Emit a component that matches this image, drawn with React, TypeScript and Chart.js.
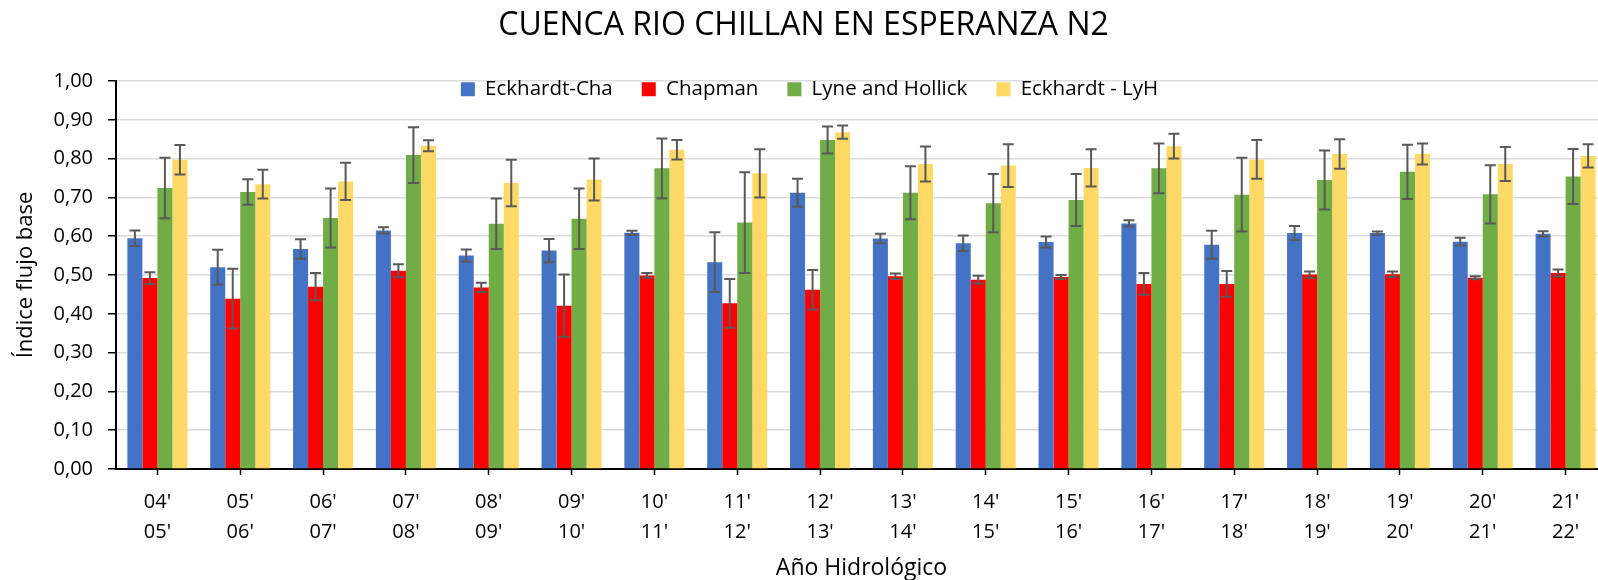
import React, { useEffect, useRef } from 'react';
import { Chart, registerables } from 'chart.js';

Chart.register(...registerables);

const TITLE = 'CUENCA RIO CHILLAN EN ESPERANZA N2';
const X_TITLE = 'Año Hidrológico';
const Y_TITLE = 'Índice flujo base';

const CATEGORIES = [
  ["04'", "05'"], ["05'", "06'"], ["06'", "07'"], ["07'", "08'"], ["08'", "09'"], ["09'", "10'"],
  ["10'", "11'"], ["11'", "12'"], ["12'", "13'"], ["13'", "14'"], ["14'", "15'"], ["15'", "16'"],
  ["16'", "17'"], ["17'", "18'"], ["18'", "19'"], ["19'", "20'"], ["20'", "21'"], ["21'", "22'"],
];

const SERIES_NAMES = ['Eckhardt-Cha', 'Chapman', 'Lyne and Hollick', 'Eckhardt - LyH'];
const SERIES_COLORS = ['#4472C4', '#FF0000', '#70AD47', '#FFD966'];

const ECK_CHA = [0.595, 0.520, 0.567, 0.615, 0.550, 0.563, 0.609, 0.533, 0.712, 0.594, 0.582, 0.585, 0.633, 0.578, 0.608, 0.608, 0.586, 0.606];
const ECK_CHA_ERR = [0.020, 0.045, 0.025, 0.008, 0.016, 0.030, 0.005, 0.077, 0.036, 0.012, 0.020, 0.014, 0.008, 0.036, 0.018, 0.004, 0.010, 0.007];

const CHAPMAN = [0.492, 0.439, 0.470, 0.511, 0.468, 0.421, 0.499, 0.427, 0.462, 0.497, 0.488, 0.495, 0.477, 0.477, 0.501, 0.502, 0.493, 0.505];
const CHAPMAN_ERR = [0.015, 0.077, 0.035, 0.017, 0.012, 0.080, 0.006, 0.063, 0.051, 0.007, 0.010, 0.005, 0.028, 0.033, 0.008, 0.007, 0.004, 0.009];

const LYNE = [0.724, 0.714, 0.647, 0.809, 0.632, 0.645, 0.775, 0.635, 0.848, 0.712, 0.685, 0.693, 0.775, 0.707, 0.745, 0.766, 0.708, 0.754];
const LYNE_ERR = [0.078, 0.033, 0.076, 0.072, 0.065, 0.078, 0.077, 0.130, 0.035, 0.068, 0.075, 0.067, 0.064, 0.095, 0.076, 0.070, 0.075, 0.071];

const ECK_LYH = [0.797, 0.734, 0.741, 0.833, 0.737, 0.746, 0.823, 0.762, 0.868, 0.786, 0.782, 0.776, 0.832, 0.798, 0.812, 0.812, 0.786, 0.807];
const ECK_LYH_ERR = [0.038, 0.037, 0.048, 0.014, 0.060, 0.054, 0.025, 0.062, 0.017, 0.045, 0.055, 0.048, 0.032, 0.050, 0.038, 0.027, 0.044, 0.030];

const Y_TICKS = ['0,00', '0,10', '0,20', '0,30', '0,40', '0,50', '0,60', '0,70', '0,80', '0,90', '1,00'];

const SERIES_VALUES = [ECK_CHA, CHAPMAN, LYNE, ECK_LYH];
const SERIES_ERRORS = [ECK_CHA_ERR, CHAPMAN_ERR, LYNE_ERR, ECK_LYH_ERR];

const FONT = "'Open Sans', 'DejaVu Sans', sans-serif";
const LEGEND_TOP = 50;
const LEGEND_SHIFT_X = 6;
const LEGEND_BOX_HEIGHT = 70;

const errorBarsPlugin = {
  id: 'errorBars',
  afterDatasetsDraw(chart: any) {
    const ctx = chart.ctx;
    const yScale = chart.scales.y;
    ctx.save();
    ctx.strokeStyle = '#595959';
    ctx.lineWidth = 2;
    chart.data.datasets.forEach((ds: any, di: number) => {
      const meta = chart.getDatasetMeta(di);
      if (meta.hidden) return;
      const errs = SERIES_ERRORS[di];
      meta.data.forEach((bar: any, i: number) => {
        const v = ds.data[i];
        const e = errs[i];
        const yTop = yScale.getPixelForValue(v + e);
        const yBot = yScale.getPixelForValue(v - e);
        const x = bar.x;
        const cap = 5.5;
        ctx.beginPath();
        ctx.moveTo(x, yTop);
        ctx.lineTo(x, yBot);
        ctx.moveTo(x - cap, yTop);
        ctx.lineTo(x + cap, yTop);
        ctx.moveTo(x - cap, yBot);
        ctx.lineTo(x + cap, yBot);
        ctx.stroke();
      });
    });
    ctx.restore();
  },
};

const legendInsidePlugin = {
  id: 'legendInside',
  afterLayout(chart: any) {
    const lg = chart.legend;
    if (!lg) return;
    lg.top = LEGEND_TOP;
    lg.bottom = LEGEND_TOP + LEGEND_BOX_HEIGHT;
    lg.height = LEGEND_BOX_HEIGHT;
    lg.left += LEGEND_SHIFT_X;
    lg.right += LEGEND_SHIFT_X;
  },
};

export default function App() {
  const canvasRef = useRef<HTMLCanvasElement | null>(null);

  useEffect(() => {
    if (!canvasRef.current) return;
    Chart.defaults.font.family = FONT;
    const chart = new Chart(canvasRef.current, {
      type: 'bar',
      data: {
        labels: CATEGORIES,
        datasets: SERIES_NAMES.map((name, i) => ({
          label: name,
          data: SERIES_VALUES[i],
          backgroundColor: SERIES_COLORS[i],
          borderWidth: 0,
          barPercentage: 1,
          categoryPercentage: 0.725,
        })),
      },
      options: {
        responsive: false,
        animation: false,
        devicePixelRatio: 1,
        layout: { padding: { left: 0, right: 1, top: 0, bottom: 0 } },
        plugins: {
          title: {
            display: true,
            text: TITLE,
            color: '#000',
            font: { size: 32, weight: 'normal', lineHeight: 1.2 },
            padding: { top: 7, bottom: 34.6 },
          },
          legend: {
            position: 'top',
            maxHeight: 1,
            labels: {
              boxWidth: 14,
              boxHeight: 14,
              padding: 29,
              color: '#000',
              font: { size: 20.5 },
            },
          },
          tooltip: { enabled: false },
        },
        scales: {
          x: {
            grid: {
              drawOnChartArea: false,
              offset: false,
              tickLength: 6,
              tickColor: '#000',
              tickWidth: 1.5,
            },
            border: { color: '#000', width: 2 },
            ticks: {
              color: '#000',
              font: { size: 20, lineHeight: 1.475 },
              padding: 13,
              maxRotation: 0,
              autoSkip: false,
            },
            title: {
              display: true,
              text: X_TITLE,
              color: '#000',
              font: { size: 23, lineHeight: 1.2 },
              padding: { top: 0, bottom: -2 },
            },
            afterFit: (s: any) => { s.height = 111; },
          },
          y: {
            min: 0,
            max: 1,
            ticks: {
              stepSize: 0.1,
              color: '#000',
              font: { size: 20 },
              padding: 15,
              callback: (v: any) => Y_TICKS[Math.round(Number(v) * 10)],
            },
            grid: {
              color: '#dcdcdc',
              lineWidth: 1.5,
              tickLength: 8,
              tickColor: '#000',
              tickWidth: 1.5,
            },
            border: { color: '#000', width: 2 },
            title: {
              display: true,
              text: Y_TITLE,
              color: '#000',
              font: { size: 22, lineHeight: 1.2 },
              padding: { top: 12.3, bottom: 0 },
            },
            afterFit: (s: any) => { s.width = 116; },
          },
        },
      },
      plugins: [errorBarsPlugin, legendInsidePlugin],
    } as any);
    return () => chart.destroy();
  }, []);

  return (
    <div style={{ position: 'fixed', left: 0, top: 0, width: 1598, height: 580, overflow: 'hidden', background: '#fff' }}>
      <canvas ref={canvasRef} width={1608} height={580} style={{ display: 'block', width: 1608, height: 580 }} />
    </div>
  );
}
